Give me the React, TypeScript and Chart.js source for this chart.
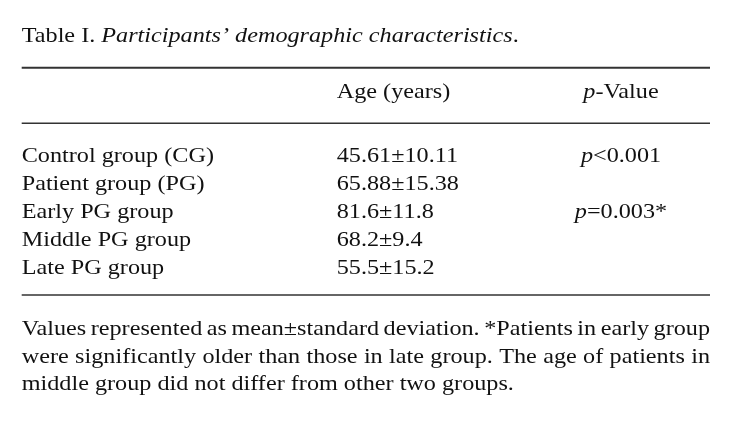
import React, { useEffect, useRef } from "react";
import { Chart, registerables } from "chart.js";

Chart.register(...registerables);

// ---- table content ----
const titleLead = "Table I. ";
const titleItalic = "Participants’ demographic characteristics";
const titleTail = ".";
const columnHeaders = ["Age (years)", "p-Value"];
const rowLabels = [
  "Control group (CG)",
  "Patient group (PG)",
  "Early PG group",
  "Middle PG group",
  "Late PG group",
];
const ageValues = ["45.61±10.11", "65.88±15.38", "81.6±11.8", "68.2±9.4", "55.5±15.2"];
const pValues = ["p<0.001", "", "p=0.003*", "", ""];
const footnoteLines = [
  "Values represented as mean±standard deviation. *Patients in early group",
  "were significantly older than those in late group. The age of patients in",
  "middle group did not differ from other two groups.",
];
const footnoteJustified = [true, true, false];

// column anchors on the x scale (fraction of the table width)
const columnAnchors = [0, 0.4577, 0.8707];

const FONT_FAMILY = "'Liberation Serif', 'Times New Roman', serif";
const FONT_SIZE = 22;
const HSCALE = 1.1;
const TEXT_COLOR = "#111111";
const RULE_COLOR = "#333333";

type Seg = { text: string; italic: boolean };

function font(italic: boolean) {
  return `${italic ? "italic " : ""}${FONT_SIZE}px ${FONT_FAMILY}`;
}

function pSegs(s: string): Seg[] {
  if (s.startsWith("p")) return [{ text: "p", italic: true }, { text: s.slice(1), italic: false }];
  return [{ text: s, italic: false }];
}

function textWidth(ctx: CanvasRenderingContext2D, text: string, italic: boolean) {
  ctx.font = font(italic);
  return ctx.measureText(text).width * HSCALE;
}

function fill(ctx: CanvasRenderingContext2D, text: string, italic: boolean, x: number, y: number) {
  ctx.font = font(italic);
  ctx.save();
  ctx.translate(x, y);
  ctx.scale(HSCALE, 1);
  ctx.fillText(text, 0, 0);
  ctx.restore();
}

function segWidth(ctx: CanvasRenderingContext2D, segs: Seg[]) {
  let w = 0;
  for (const s of segs) w += textWidth(ctx, s.text, s.italic);
  return w;
}

function drawSegs(ctx: CanvasRenderingContext2D, segs: Seg[], x: number, y: number, align: "left" | "center") {
  let cx = align === "center" ? x - segWidth(ctx, segs) / 2 : x;
  ctx.textAlign = "left";
  for (const s of segs) {
    fill(ctx, s.text, s.italic, cx, y);
    cx += textWidth(ctx, s.text, s.italic);
  }
}

function drawJustified(ctx: CanvasRenderingContext2D, text: string, left: number, right: number, y: number) {
  const words = text.split(" ");
  const widths = words.map((w) => textWidth(ctx, w, false));
  const total = widths.reduce((a, b) => a + b, 0);
  const gap = (right - left - total) / (words.length - 1);
  let x = left;
  ctx.textAlign = "left";
  words.forEach((w, i) => {
    fill(ctx, w, false, x, y);
    x += widths[i] + gap;
  });
}

const tablePlugin = {
  id: "tablePlugin",
  afterDraw(chart: any) {
    const ctx: CanvasRenderingContext2D = chart.ctx;
    const xs = chart.scales.x;
    const ys = chart.scales.y;
    const area = chart.chartArea;
    const left = xs.getPixelForValue(0);
    const right = xs.getPixelForValue(1);
    const colX = columnAnchors.map((v) => xs.getPixelForValue(v));
    const top = area.top;
    const bottom = area.bottom;
    const baseOff = 7;

    ctx.save();
    ctx.fillStyle = TEXT_COLOR;
    ctx.textBaseline = "alphabetic";

    // title
    drawSegs(
      ctx,
      [
        { text: titleLead, italic: false },
        { text: titleItalic, italic: true },
        { text: titleTail, italic: false },
      ],
      left,
      top - 98.7,
      "left"
    );

    // rules
    const rule = (y: number, w: number) => {
      ctx.strokeStyle = RULE_COLOR;
      ctx.lineWidth = w;
      ctx.beginPath();
      ctx.moveTo(left, y);
      ctx.lineTo(right, y);
      ctx.stroke();
    };
    rule(top - 72.7, 2);
    rule(top - 17.1, 1.5);
    rule(bottom + 13.4, 1.5);

    // header
    drawSegs(ctx, [{ text: columnHeaders[0], italic: false }], colX[1], top - 42.9, "left");
    drawSegs(ctx, pSegs(columnHeaders[1]), colX[2], top - 42.9, "center");

    // rows
    rowLabels.forEach((label, i) => {
      const y = ys.getPixelForValue(i) + baseOff;
      drawSegs(ctx, [{ text: label, italic: false }], colX[0], y, "left");
      drawSegs(ctx, [{ text: ageValues[i], italic: false }], colX[1], y, "left");
      if (pValues[i]) drawSegs(ctx, pSegs(pValues[i]), colX[2], y, "center");
    });

    // footnote
    const footBase = [53.4, 80.9, 108.4];
    footnoteLines.forEach((line, i) => {
      const y = bottom + footBase[i];
      if (footnoteJustified[i]) drawJustified(ctx, line, left, right, y);
      else drawSegs(ctx, [{ text: line, italic: false }], left, y, "left");
    });

    ctx.restore();
  },
};

export default function App() {
  const ref = useRef<HTMLCanvasElement | null>(null);
  useEffect(() => {
    if (!ref.current) return;
    const chart = new Chart(ref.current, {
      type: "scatter",
      data: { labels: rowLabels, datasets: [] },
      options: {
        animation: false,
        responsive: true,
        maintainAspectRatio: false,
        layout: { padding: { left: 13.7, right: 20, top: 132.4, bottom: 138.4 } },
        scales: {
          x: { type: "linear", min: 0, max: 1, display: false },
          y: { type: "category", labels: rowLabels, offset: true, display: false },
        },
        plugins: { legend: { display: false }, tooltip: { enabled: false }, title: { display: false } },
      },
      plugins: [tablePlugin],
    });
    return () => chart.destroy();
  }, []);
  return (
    <div style={{ width: 722, height: 412, background: "#ffffff" }}>
      <canvas ref={ref} />
    </div>
  );
}
